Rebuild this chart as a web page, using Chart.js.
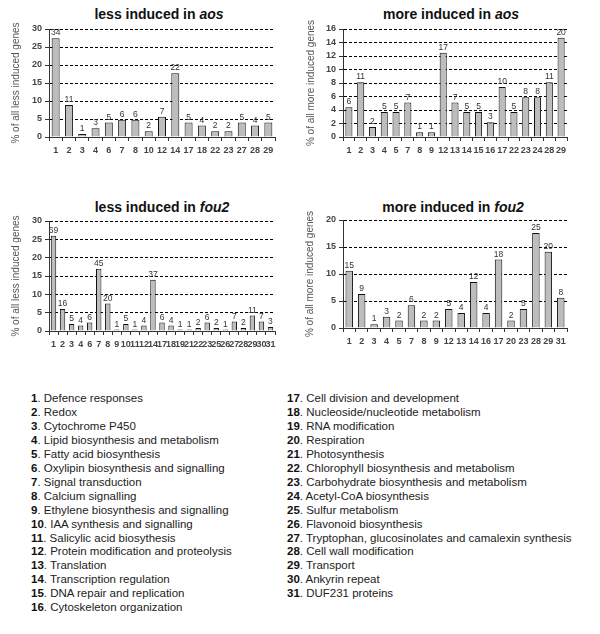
<!DOCTYPE html>
<html>
<head>
<meta charset="utf-8">
<script src="https://cdn.jsdelivr.net/npm/chart.js@4.4.1/dist/chart.umd.min.js"></script>
<style>
  html, body { margin: 0; padding: 0; background: #fff; }
  body { width: 600px; height: 634px; position: relative; overflow: hidden; font-family: 'Liberation Sans', Arial, sans-serif; }
  canvas { position: absolute; }
  .ttl { position: absolute; font-weight: bold; font-size: 14px; color: #111; white-space: nowrap; transform: translate(-50%, -50%); }
  .leg { position: absolute; font-size: 11.5px; line-height: 13.95px; color: #222; white-space: nowrap; }
  .leg b { color: #111; }
</style>
</head>
<body>
<div class="ttl" style="left:159px;top:14px">less induced in <i>aos</i></div>
<div class="ttl" style="left:451px;top:14px">more induced in <i>aos</i></div>
<div class="ttl" style="left:162px;top:207px">less induced in <i>fou2</i></div>
<div class="ttl" style="left:453px;top:207px">more induced in <i>fou2</i></div>
<canvas id="c1" width="280" height="150" style="left:0px;top:10px"></canvas>
<canvas id="c2" width="290" height="150" style="left:300px;top:10px"></canvas>
<canvas id="c3" width="280" height="155" style="left:0px;top:200px"></canvas>
<canvas id="c4" width="290" height="155" style="left:300px;top:200px"></canvas>
<div class="leg" id="legL" style="left:31px;top:392px"></div>
<div class="leg" id="legR" style="left:287px;top:392px"></div>
<script>
// ---- Data ----
const aosLessCats = ['1','2','3','4','6','7','8','10','12','14','17','18','22','23','27','28','29'];
const aosLessPct  = [27.4, 8.9, 0.8, 2.4, 4.0, 4.8, 4.8, 1.6, 5.6, 17.7, 4.0, 3.2, 1.6, 1.6, 4.0, 3.2, 4.0];
const aosLessN    = [34, 11, 1, 3, 5, 6, 6, 2, 7, 22, 5, 4, 2, 2, 5, 4, 5];

const aosMoreCats = ['1','2','3','4','5','7','8','9','12','13','14','15','16','17','22','23','24','28','29'];
const aosMorePct  = [4.4, 8.1, 1.5, 3.7, 3.7, 5.1, 0.7, 0.7, 12.5, 5.1, 3.7, 3.7, 2.2, 7.4, 3.7, 5.9, 5.9, 8.1, 14.7];
const aosMoreN    = [6, 11, 2, 5, 5, 7, 1, 1, 17, 7, 5, 5, 3, 10, 5, 8, 8, 11, 20];

const fou2LessCats = ['1','2','3','4','6','7','8','9','10','11','12','14','17','18','19','21','22','23','25','26','27','28','29','30','31'];
const fou2LessPct  = [26.0, 6.0, 1.9, 1.5, 2.3, 17.0, 7.5, 0.4, 1.9, 0.4, 1.5, 14.0, 2.3, 1.5, 0.4, 0.4, 0.8, 2.3, 0.8, 0.4, 2.6, 0.8, 4.2, 2.6, 1.1];
const fou2LessN    = [69, 16, 5, 4, 6, 45, 20, 1, 5, 1, 4, 37, 6, 4, 1, 1, 2, 6, 2, 1, 7, 2, 11, 7, 3];

const fou2MoreCats = ['1','2','3','4','5','7','8','9','12','13','14','16','17','20','23','28','29','31'];
const fou2MorePct  = [10.6, 6.3, 0.7, 2.1, 1.4, 4.2, 1.4, 1.4, 3.5, 2.8, 8.5, 2.8, 12.7, 1.4, 3.5, 17.6, 14.1, 5.6];
const fou2MoreN    = [15, 9, 1, 3, 2, 6, 2, 2, 5, 4, 12, 4, 18, 2, 5, 25, 20, 8];

const legendNums = ['1','2','3','4','5','6','7','8','9','10','11','12','13','14','15','16',
  '17','18','19','20','21','22','23','24','25','26','27','28','29','30','31'];
const legendNames = ['Defence responses','Redox','Cytochrome P450','Lipid biosynthesis and metabolism',
  'Fatty acid biosynthesis','Oxylipin biosynthesis and signalling','Signal transduction','Calcium signalling',
  'Ethylene biosynthesis and signalling','IAA synthesis and signalling','Salicylic acid biosythesis',
  'Protein modification and proteolysis','Translation','Transcription regulation','DNA repair and replication',
  'Cytoskeleton organization','Cell division and development','Nucleoside/nucleotide metabolism','RNA modification',
  'Respiration','Photosynthesis','Chlorophyll biosynthesis and metabolism','Carbohydrate biosynthesis and metabolism',
  'Acetyl-CoA biosynthesis','Sulfur metabolism','Flavonoid biosynthesis',
  'Tryptophan, glucosinolates and camalexin synthesis','Cell wall modification','Transport','Ankyrin repeat',
  'DUF231 proteins'];

// ---- Legend ----
function fillLegend(el, from, to) {
  let html = '';
  for (let i = from; i < to; i++) html += '<div><b>' + legendNums[i] + '</b>. ' + legendNames[i] + '</div>';
  document.getElementById(el).innerHTML = html;
}
fillLegend('legL', 0, 16);
fillLegend('legR', 16, 31);

// ---- Charts ----
const FONT = "'Liberation Sans', Arial, sans-serif";
const countLabels = {
  id: 'countLabels',
  afterDatasetsDraw(chart) {
    const ctx = chart.ctx;
    const counts = chart.options.plugins.countLabels.counts;
    const meta = chart.getDatasetMeta(0);
    ctx.save();
    ctx.font = '8.5px ' + FONT;
    ctx.fillStyle = '#333';
    ctx.textAlign = 'center';
    ctx.textBaseline = 'bottom';
    meta.data.forEach((bar, i) => {
      ctx.fillText(String(counts[i]), bar.x, bar.y - 1);
    });
    ctx.restore();
  }
};

function makePanel(id, cats, pct, counts, yMax, yStep, yTitle, geo) {
  const yW = geo.L - geo.cl;
  const xH = (geo.ct + geo.ch) - geo.B;
  new Chart(document.getElementById(id), {
    type: 'bar',
    data: {
      labels: cats,
      datasets: [{
        data: pct,
        backgroundColor: '#bdbdbd',
        borderColor: '#111',
        borderWidth: 1,
        borderSkipped: 'bottom',
        categoryPercentage: 1.0,
        barPercentage: 0.6
      }]
    },
    options: {
      responsive: false,
      animation: false,
      events: [],
      layout: { padding: { left: 0, bottom: 0, top: geo.T - geo.ct, right: (geo.cl + geo.cw) - geo.R } },
      plugins: { legend: { display: false }, tooltip: { enabled: false }, countLabels: { counts: counts } },
      scales: {
        x: {
          offset: true,
          grid: { display: true, drawOnChartArea: false, drawTicks: true, tickLength: 4, tickColor: '#333', offset: true },
          border: { display: true, color: '#333', width: 1 },
          ticks: { autoSkip: false, maxRotation: 0, minRotation: 0, padding: 4, color: '#444',
                   font: { family: FONT, size: 9, weight: 'bold' } },
          afterFit(s) { s.height = xH; }
        },
        y: {
          min: 0, max: yMax,
          grid: { color: '#000', lineWidth: 1, tickLength: 4, tickColor: '#333', tickBorderDash: [] },
          border: { display: true, color: '#333', width: 1, dash: [3, 2] },
          ticks: { stepSize: yStep, autoSkip: false, padding: 3, color: '#444', font: { family: FONT, size: 9, weight: 'bold' } },
          title: { display: true, text: yTitle, color: '#555', padding: { top: geo.yt - 6, bottom: 0 },
                   font: { family: FONT, size: 10 } },
          afterFit(s) { s.width = yW; }
        }
      }
    },
    plugins: [countLabels]
  });
}

makePanel('c1', aosLessCats, aosLessPct, aosLessN, 30, 5, '% of all less induced genes',
  { cl: 0, ct: 10, cw: 280, ch: 150, L: 49, T: 29, R: 275, B: 137, yt: 16 });
makePanel('c2', aosMoreCats, aosMorePct, aosMoreN, 16, 2, '% of all more induced genes',
  { cl: 300, ct: 10, cw: 290, ch: 150, L: 343, T: 29, R: 567, B: 137, yt: 11 });
makePanel('c3', fou2LessCats, fou2LessPct, fou2LessN, 30, 5, '% of all less induced genes',
  { cl: 0, ct: 200, cw: 280, ch: 155, L: 49, T: 221, R: 275, B: 331, yt: 16 });
makePanel('c4', fou2MoreCats, fou2MorePct, fou2MoreN, 20, 5, '% of all more induced genes',
  { cl: 300, ct: 200, cw: 290, ch: 155, L: 343, T: 220, R: 567, B: 328, yt: 10 });
</script>
</body>
</html>
